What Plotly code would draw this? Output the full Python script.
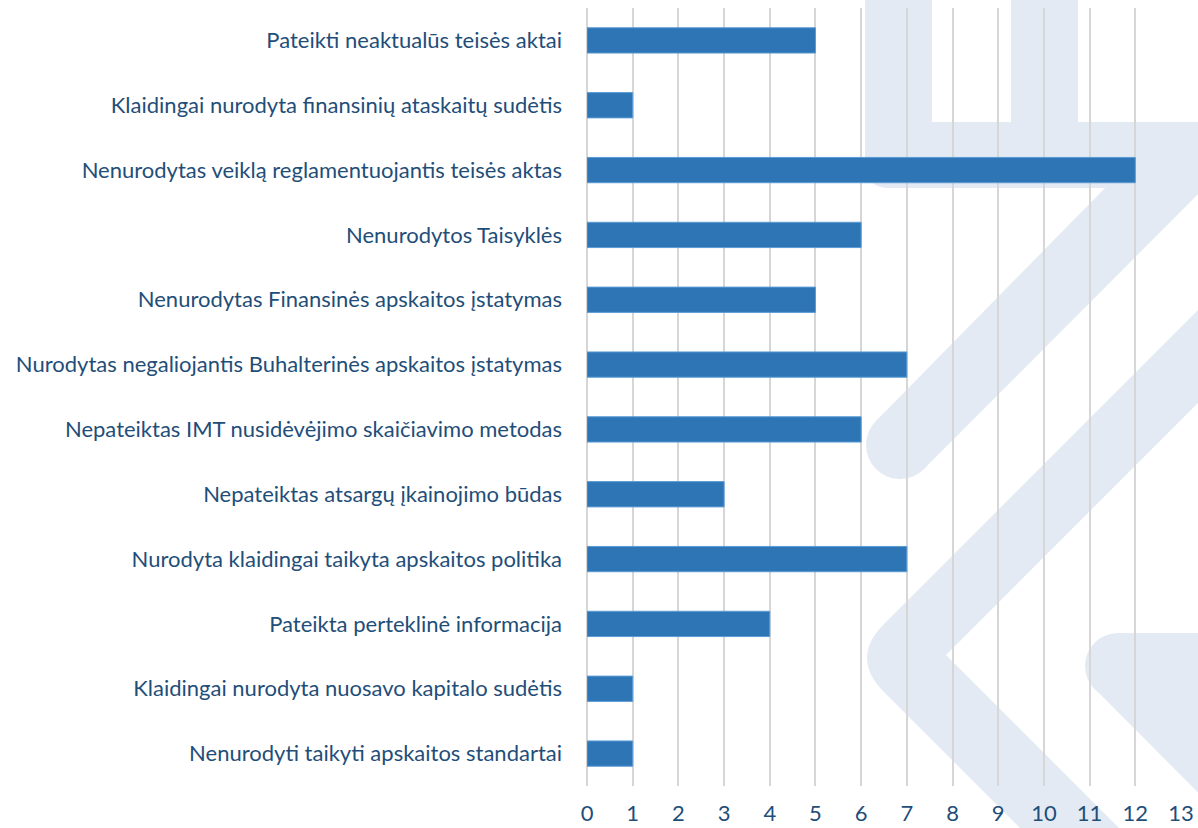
import plotly.graph_objects as go

categories = [
    "Pateikti neaktualūs teisės aktai",
    "Klaidingai nurodyta finansinių ataskaitų sudėtis",
    "Nenurodytas veiklą reglamentuojantis teisės aktas",
    "Nenurodytos Taisyklės",
    "Nenurodytas Finansinės apskaitos įstatymas",
    "Nurodytas negaliojantis Buhalterinės apskaitos įstatymas",
    "Nepateiktas IMT nusidėvėjimo skaičiavimo metodas",
    "Nepateiktas atsargų įkainojimo būdas",
    "Nurodyta klaidingai taikyta apskaitos politika",
    "Pateikta perteklinė informacija",
    "Klaidingai nurodyta nuosavo kapitalo sudėtis",
    "Nenurodyti taikyti apskaitos standartai",
]
values = [5, 1, 12, 6, 5, 7, 6, 3, 7, 4, 1, 1]
x_ticks = list(range(0, 14))

W, H = 1198, 828
L, R, T, B = 587, 1181, 8, 786

TEXT = "#1f4e79"
BAR = "#2e75b6"
WM = "#e4eaf3"
FONT = "Lato"


def px(x):
    return (x - L) / (R - L)


def py(y):
    return (B - y) / (B - T)


def path(cmds):
    out = []
    for c in cmds:
        if c[0] in ("M", "L"):
            out.append(f"{c[0]}{px(c[1]):.4f},{py(c[2]):.4f}")
        elif c[0] == "Q":
            out.append(f"Q{px(c[1]):.4f},{py(c[2]):.4f} {px(c[3]):.4f},{py(c[4]):.4f}")
        elif c[0] == "Z":
            out.append("Z")
    return " ".join(out)


def circle(cx, cy, r):
    return dict(type="circle", xref="paper", yref="paper", layer="below",
                x0=px(cx - r), x1=px(cx + r), y0=py(cy + r), y1=py(cy - r),
                fillcolor=WM, line=dict(width=0))


def poly(cmds):
    return dict(type="path", xref="paper", yref="paper", layer="below",
                path=path(cmds), fillcolor=WM, line=dict(width=0))


shapes = [
    # top "U" + diagonal stroke
    poly([("M", 865, -20), ("L", 932, -20), ("L", 932, 122), ("L", 1011, 122),
          ("L", 1011, -20), ("L", 1078, -20), ("L", 1078, 122), ("L", 1270, 122),
          ("L", 924, 469), ("L", 876, 421), ("L", 1105, 188), ("L", 890, 188),
          ("Q", 865, 188, 865, 163), ("Z",)]),
    circle(900, 445, 34),
    # chevron "<"
    poly([("M", 1558, -50), ("L", 884, 624), ("Q", 850, 658, 884, 692),
          ("L", 1092, 900), ("L", 1191, 900), ("L", 946, 655), ("L", 1651, -50), ("Z",)]),
    # right rounded wedge
    poly([("M", 1118, 633), ("L", 1400, 633), ("L", 1400, 900), ("L", 1305, 900),
          ("L", 1095, 689), ("Z",)]),
    circle(1118, 666, 33),
]

fig = go.Figure(go.Bar(
    y=categories, x=values, orientation="h",
    marker=dict(color=BAR, line=dict(color="#5b9bd5", width=1)),
    hoverinfo="x+y",
))

fig.update_layout(
    width=W, height=H,
    margin=dict(l=L, r=W - R, t=T, b=H - B, autoexpand=False),
    paper_bgcolor="white", plot_bgcolor="rgba(0,0,0,0)",
    bargap=0.61, showlegend=False,
    font=dict(family=FONT, size=22, color=TEXT),
    shapes=shapes,
)
fig.update_xaxes(range=[0, 13], tickvals=x_ticks, ticktext=[str(v) for v in x_ticks],
                 showgrid=True, gridcolor="#d6d6d6", gridwidth=1.6,
                 zeroline=True, zerolinecolor="#d6d6d6", zerolinewidth=1.6,
                 showline=False, ticks="", ticklabelstandoff=12, automargin=False,
                 tickfont=dict(family=FONT, size=22, color=TEXT), fixedrange=True)
fig.update_yaxes(autorange="reversed", showgrid=False, showline=False, ticks="",
                 ticklabelstandoff=24, automargin=False,
                 tickfont=dict(family=FONT, size=22, color=TEXT), fixedrange=True)

fig.write_html("out.html", config={"displayModeBar": False},
               post_script="document.body.style.margin='0';")
